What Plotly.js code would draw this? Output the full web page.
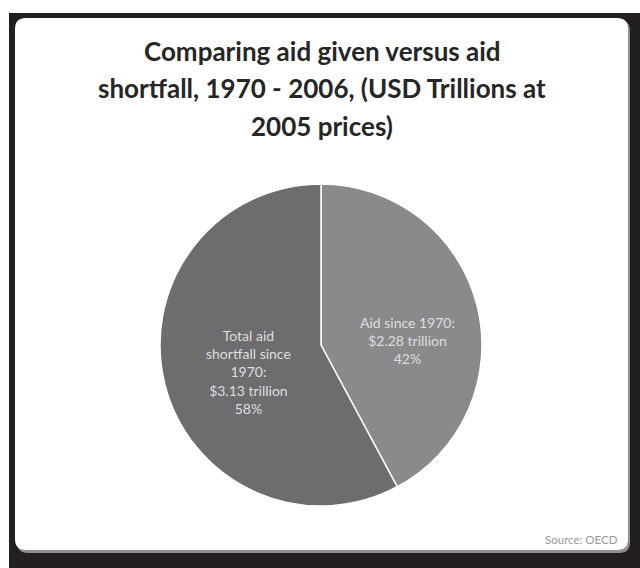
<!DOCTYPE html>
<html>
<head>
<meta charset="utf-8">
<script src="https://cdn.plot.ly/plotly-3.0.1.min.js"></script>
<style>html,body{margin:0;padding:0;background:#fff;}#chart{width:640px;height:568px;}</style>
</head>
<body>
<div id="chart"></div>
<script>
// ---- data ----
var titleLines = ["Comparing aid given versus aid", "shortfall, 1970 - 2006, (USD Trillions at", "2005 prices)"];
var sliceLabels = ["Aid since 1970:", "Total aid shortfall since 1970:"];
var sliceLabelLines = [["Aid since 1970:"], ["Total aid", "shortfall since", "1970:"]];
var sliceValues = [2.28, 3.13];       // USD trillions
var slicePercents = ["42%", "58%"];
var sliceColors = ["#8a8a8c", "#6d6d6f"];
var sourceText = "Source: OECD";

var W = 640, H = 568;
function px(x){ return x / W; }
function py(y){ return 1 - y / H; }
function roundRect(x0, y0, x1, y1, r){
  var rx = r / W, ry = r / H;
  var X0 = px(x0), X1 = px(x1), Y0 = py(y0), Y1 = py(y1);
  return "M" + (X0+rx) + "," + Y0 +
    " L" + (X1-rx) + "," + Y0 + " Q" + X1 + "," + Y0 + " " + X1 + "," + (Y0-ry) +
    " L" + X1 + "," + (Y1+ry) + " Q" + X1 + "," + Y1 + " " + (X1-rx) + "," + Y1 +
    " L" + (X0+rx) + "," + Y1 + " Q" + X0 + "," + Y1 + " " + X0 + "," + (Y1+ry) +
    " L" + X0 + "," + (Y0-ry) + " Q" + X0 + "," + Y0 + " " + (X0+rx) + "," + Y0 + " Z";
}

var trace = {
  type: "pie",
  labels: sliceLabels,
  values: sliceValues,
  sort: false,
  direction: "clockwise",
  rotation: 0,
  textinfo: "none",
  hoverinfo: "label+value+percent",
  showlegend: false,
  marker: { colors: sliceColors, line: { color: "#ffffff", width: 1.5 } },
  domain: { x: [px(160), px(482)], y: [py(506), py(184)] }
};

var annotations = [];
var titleY = [51, 88, 126];
titleLines.forEach(function(t, i){
  annotations.push({
    text: t, xref: "paper", yref: "paper", x: px(322), y: py(titleY[i]),
    xanchor: "center", yanchor: "middle", showarrow: false,
    font: { family: "Lato, 'DejaVu Sans', sans-serif", size: 26, color: "#262626", weight: 700 }
  });
});
var labelPos = [[407, 340], [248, 372]];
sliceLabelLines.forEach(function(lines, i){
  var txt = lines.concat(["$" + sliceValues[i].toFixed(2) + " trillion", slicePercents[i]]).join("<br>");
  annotations.push({
    text: txt, xref: "paper", yref: "paper", x: px(labelPos[i][0]), y: py(labelPos[i][1]),
    xanchor: "center", yanchor: "middle", showarrow: false, align: "center",
    font: { family: "Lato, sans-serif", size: 14, color: "#dedede" }
  });
});
annotations.push({
  text: sourceText, xref: "paper", yref: "paper", x: px(620), y: py(539),
  xanchor: "right", yanchor: "middle", showarrow: false,
  font: { family: "Lato, sans-serif", size: 11.5, color: "#9a9a9a" }
});

var layout = {
  width: W, height: H,
  margin: { l: 0, r: 0, t: 0, b: 0 },
  paper_bgcolor: "#ffffff",
  shapes: [
    { type: "rect", xref: "paper", yref: "paper", x0: px(9), x1: 1, y0: 0, y1: py(13),
      fillcolor: "#231f20", line: { width: 0 }, layer: "below" },
    { type: "path", xref: "paper", yref: "paper", path: roundRect(17, 20, 630, 553, 11),
      fillcolor: "#8f8f8f", line: { width: 0 }, layer: "below" },
    { type: "path", xref: "paper", yref: "paper", path: roundRect(15, 18, 628, 550, 11),
      fillcolor: "#ffffff", line: { width: 0 }, layer: "below" }
  ],
  annotations: annotations
};

Plotly.newPlot("chart", [trace], layout, { displayModeBar: false, staticPlot: true });
</script>
</body>
</html>
